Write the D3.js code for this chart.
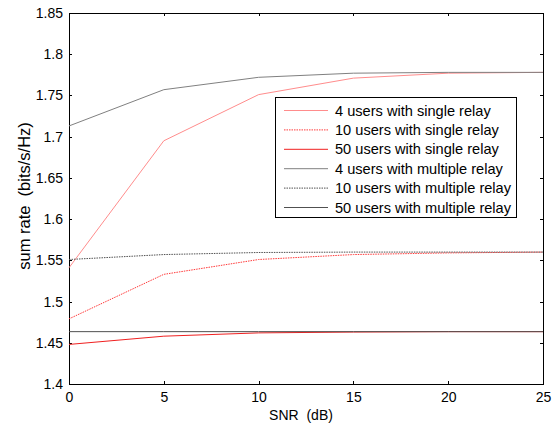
<!DOCTYPE html>
<html lang="en">
<head>
  <meta charset="UTF-8">
  <title>sum rate vs SNR</title>
  <style>
    body { margin: 0; background: #fff; }
    .axis path, .axis line { fill: none; stroke: #000; shape-rendering: crispEdges; }
    .axis text { font-family: "Liberation Sans", Arial, sans-serif; font-size: 14px; fill: #000; }
    .lbl { font-family: "Liberation Sans", Arial, sans-serif; font-size: 14px; fill: #000; }
    .ylbl { font-size: 16.5px; }
    .leg text { font-family: "Liberation Sans", Arial, sans-serif; font-size: 14.6px; fill: #000; }
  </style>
</head>
<body>
  <div id="chart"></div>
  <script src="https://d3js.org/d3.v7.min.js"></script>
  <script>
    // 数据
    var snr = [0, 5, 10, 15, 20, 25]
    var single4 = [1.541, 1.695, 1.751, 1.771, 1.777, 1.778]
    var single10 = [1.479, 1.533, 1.551, 1.557, 1.559, 1.560]
    var single50 = [1.448, 1.458, 1.462, 1.463, 1.4635, 1.4635]
    var multi4 = [1.713, 1.757, 1.772, 1.777, 1.778, 1.778]
    var multi10 = [1.551, 1.557, 1.5595, 1.560, 1.560, 1.560]
    var multi50 = [1.4635, 1.4635, 1.4635, 1.4635, 1.4635, 1.4635]
    var xTicks = [0, 5, 10, 15, 20, 25]
    var yTicks = [1.4, 1.45, 1.5, 1.55, 1.6, 1.65, 1.7, 1.75, 1.8, 1.85]
    var names = ['4 users with single relay', '10 users with single relay', '50 users with single relay',
      '4 users with multiple relay', '10 users with multiple relay', '50 users with multiple relay']

    var series = [
      {name: names[0], values: single4, color: '#ff8c8c', dash: null},
      {name: names[1], values: single10, color: '#ff3a3a', dash: '1.5,1'},
      {name: names[2], values: single50, color: '#f02020', dash: null},
      {name: names[3], values: multi4, color: '#808080', dash: null},
      {name: names[4], values: multi10, color: '#505050', dash: '1.5,1'},
      {name: names[5], values: multi50, color: '#505050', dash: null}
    ]

    var width = 552, height = 426
    var plot = {left: 69, right: 543, top: 13, bottom: 384}

    var svg = d3.select('#chart').append('svg')
      .attr('width', width)
      .attr('height', height)

    var x = d3.scaleLinear().domain([0, 25]).range([plot.left, plot.right])
    var y = d3.scaleLinear().domain([1.4, 1.85]).range([plot.bottom, plot.top])

    // 坐标轴 (刻度朝内)
    svg.append('g').attr('class', 'axis')
      .attr('transform', 'translate(0,' + plot.bottom + ')')
      .call(d3.axisBottom(x).tickValues(xTicks).tickSizeInner(-3).tickSizeOuter(0).tickPadding(8).tickFormat(d3.format('d')))
    svg.append('g').attr('class', 'axis')
      .attr('transform', 'translate(0,' + plot.top + ')')
      .call(d3.axisTop(x).tickValues(xTicks).tickSizeInner(-3).tickSizeOuter(0).tickFormat(''))
    svg.append('g').attr('class', 'axis')
      .attr('transform', 'translate(' + plot.left + ',0)')
      .call(d3.axisLeft(y).tickValues(yTicks).tickSizeInner(-3).tickSizeOuter(0).tickPadding(6).tickFormat(d3.format('')))
    svg.append('g').attr('class', 'axis')
      .attr('transform', 'translate(' + plot.right + ',0)')
      .call(d3.axisRight(y).tickValues(yTicks).tickSizeInner(-3).tickSizeOuter(0).tickFormat(''))

    var line = d3.line()
      .x(function (d, i) { return x(snr[i]) })
      .y(function (d) { return y(d) })

    svg.selectAll('.series')
      .data(series)
      .enter()
      .append('path')
      .attr('class', 'series')
      .attr('fill', 'none')
      .attr('stroke', function (d) { return d.color })
      .attr('stroke-width', 1)
      .attr('stroke-dasharray', function (d) { return d.dash })
      .attr('d', function (d) { return line(d.values) })

    // 坐标轴标题
    svg.append('text')
      .attr('class', 'lbl')
      .attr('x', 301)
      .attr('y', 420)
      .attr('text-anchor', 'middle')
      .style('white-space', 'pre')
      .text('SNR  (dB)')
    svg.append('text')
      .attr('class', 'lbl ylbl')
      .attr('transform', 'translate(30,196) rotate(-90)')
      .attr('text-anchor', 'middle')
      .style('white-space', 'pre')
      .text('sum rate  (bits/s/Hz)')

    // 图例
    var leg = svg.append('g').attr('class', 'leg')
    leg.append('rect')
      .attr('x', 275.5).attr('y', 97.5)
      .attr('width', 241).attr('height', 120)
      .attr('fill', '#fff').attr('stroke', '#000')
    var rows = leg.selectAll('.row')
      .data(series)
      .enter()
      .append('g')
      .attr('class', 'row')
      .attr('transform', function (d, i) { return 'translate(0,' + (110.5 + i * 19.4) + ')' })
    rows.append('line')
      .attr('x1', 284).attr('x2', 328)
      .attr('stroke', function (d) { return d.color })
      .attr('stroke-dasharray', function (d) { return d.dash })
    rows.append('text')
      .attr('x', 335)
      .attr('dy', '0.35em')
      .text(function (d) { return d.name })
  </script>
</body>
</html>
